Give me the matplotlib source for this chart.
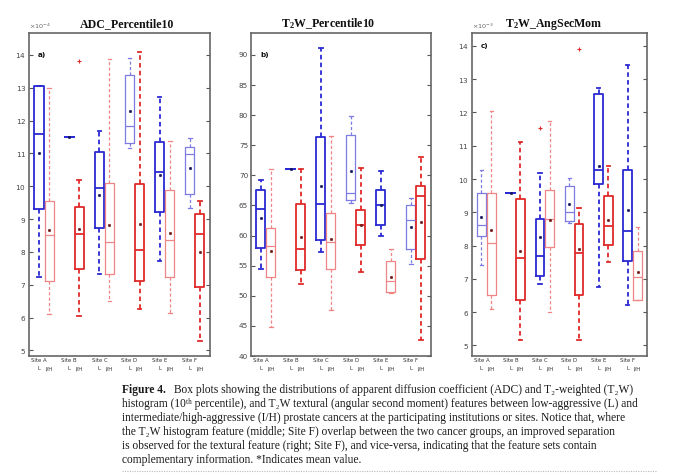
import numpy as np
import matplotlib
matplotlib.use("Agg")
import matplotlib.pyplot as plt
from matplotlib.lines import Line2D

plt.rcParams["mathtext.fontset"] = "custom"
plt.rcParams["mathtext.rm"] = "Liberation Serif"
plt.rcParams["mathtext.it"] = "Liberation Serif:italic"
plt.rcParams["mathtext.bf"] = "Liberation Serif:bold"

# ================================================================================================
# Data (order of boxes: Site A L, Site A I/H, Site B L, Site B I/H, ... Site F I/H)
# ================================================================================================
sites = ["Site A", "Site B", "Site C", "Site D", "Site E", "Site F"]
groups = ["L", "I/H"]

# a) ADC_Percentile10 (x 1e-4)
adc_whislo = [7.25, 6.10, 11.5, 6.04, 7.34, 6.50, 11.16, 6.25, 7.72, 6.15, 9.35, 5.28]
adc_q1 = [9.31, 7.12, 11.5, 7.47, 8.72, 7.34, 11.31, 7.10, 9.23, 7.23, 9.76, 6.93]
adc_med = [11.60, 8.52, 11.5, 8.54, 9.94, 8.30, 11.84, 8.07, 10.42, 8.37, 10.98, 8.54]
adc_q3 = [13.04, 9.55, 11.5, 9.37, 11.05, 10.10, 13.39, 10.06, 11.36, 9.90, 11.19, 9.16]
adc_whishi = [13.04, 13.00, 11.5, 10.19, 11.69, 13.88, 13.92, 14.08, 12.73, 11.39, 11.48, 9.56]
adc_mean = [11.00, 8.66, 11.5, 8.70, 9.73, 8.82, 12.29, 8.85, 10.34, 8.58, 10.55, 8.00]
adc_fliers = [[], [], [], [13.83], [], [], [], [], [], [], [], []]

# b) T2W_Percentile10
t2w_whislo = [54.5, 44.8, 71.0, 52.0, 57.2, 47.7, 65.4, 53.9, 59.9, 50.5, 55.2, 42.6]
t2w_q1 = [57.9, 53.1, 71.0, 54.3, 59.3, 54.5, 65.9, 58.5, 61.7, 50.6, 57.8, 56.1]
t2w_med = [64.4, 58.2, 71.0, 57.8, 65.2, 58.9, 67.1, 61.7, 65.1, 52.4, 62.6, 66.5]
t2w_q3 = [67.6, 61.2, 71.0, 65.2, 76.4, 63.7, 76.7, 64.3, 67.6, 55.8, 65.1, 68.2]
t2w_whishi = [69.2, 71.0, 71.0, 71.0, 91.1, 76.5, 79.8, 71.3, 70.7, 57.8, 66.3, 73.1]
t2w_mean = [63.0, 57.5, 71.0, 59.8, 68.3, 59.5, 70.7, 61.8, 65.0, 53.2, 61.5, 62.2]
t2w_fliers = [[] for _ in range(12)]

# c) T2W_AngSecMom (x 1e-3)
asm_whislo = [7.42, 6.09, 9.59, 5.15, 6.84, 6.00, 8.67, 5.17, 6.74, 7.50, 6.22, 6.35]
asm_q1 = [8.29, 6.51, 9.59, 6.37, 7.07, 7.97, 8.75, 6.50, 9.85, 8.02, 7.54, 6.37]
asm_med = [8.62, 8.07, 9.59, 7.62, 7.69, 8.80, 9.01, 7.79, 10.27, 8.59, 8.45, 7.05]
asm_q3 = [9.59, 9.57, 9.59, 9.41, 8.79, 9.67, 9.79, 8.64, 12.57, 9.49, 10.27, 7.85]
asm_whishi = [10.27, 12.05, 9.59, 11.10, 10.19, 11.74, 10.04, 9.12, 12.75, 10.39, 13.42, 8.57]
asm_mean = [8.87, 8.47, 9.59, 7.84, 8.27, 8.78, 9.25, 7.89, 10.40, 8.77, 9.07, 7.22]
asm_fliers = [[], [], [], [], [11.52], [], [], [13.92], [], [], [], []]

# ================================================================================================
# Styles
# ================================================================================================
blue = ["#7c7ce4", "#2a2ad2"]
red = ["#f08585", "#e02a2a"]
mean_col = {"L": "#14145e", "I/H": "#701515"}
# heavy (1) / light (0) rendering of each box, as it appears in the scanned figure
heavy = {
    "a": [1, 0, 1, 1, 1, 0, 0, 1, 1, 0, 0, 1],
    "b": [1, 0, 1, 1, 1, 0, 0, 1, 1, 0, 0, 1],
    "c": [0, 0, 1, 1, 1, 0, 0, 1, 1, 1, 1, 0],
}

positions = []
for i in range(len(sites)):
    positions += [3 * i + 1, 3 * i + 2]


def make_stats(whislo, q1, med, q3, whishi, mean, fliers, scale):
    stats = []
    for k in range(len(med)):
        stats.append(dict(whislo=whislo[k] * scale, q1=q1[k] * scale, med=med[k] * scale,
                          q3=q3[k] * scale, whishi=whishi[k] * scale, mean=mean[k] * scale,
                          fliers=np.array(fliers[k]) * scale))
    return stats


panels = [
    ("a", "ADC_Percentile10",
     make_stats(adc_whislo, adc_q1, adc_med, adc_q3, adc_whishi, adc_mean, adc_fliers, 1e-4),
     (4.83e-4, 14.66e-4), np.arange(5, 15) * 1e-4, -4, 0.932),
    ("b", r"T$_\mathbf{2}$W_Percentile10",
     make_stats(t2w_whislo, t2w_q1, t2w_med, t2w_q3, t2w_whishi, t2w_mean, t2w_fliers, 1.0),
     (40, 93.6), np.arange(40, 91, 5), None, 0.932),
    ("c", r"T$_\mathbf{2}$W_AngSecMom",
     make_stats(asm_whislo, asm_q1, asm_med, asm_q3, asm_whishi, asm_mean, asm_fliers, 1e-3),
     (4.69e-3, 14.38e-3), np.arange(5, 15) * 1e-3, -3, 0.962),
]

axes_rect = {
    "a": [0.0426, 0.2505, 0.2662, 0.6794],
    "b": [0.3691, 0.2505, 0.2647, 0.6794],
    "c": [0.6937, 0.2512, 0.2582, 0.6787],
}
title_x = {"a": 0.187, "b": 0.4826, "c": 0.8144}

# ================================================================================================
# Plot
# ================================================================================================
fig = plt.figure(figsize=(6.8, 4.75), dpi=100)

for key, title, stats, ylim, yticks, order, label_y in panels:
    ax = fig.add_axes(axes_rect[key])
    for k, st in enumerate(stats):
        grp = groups[k % 2]
        h = heavy[key][k]
        col = blue[h] if grp == "L" else red[h]
        lw = 1.3 if h else 0.9
        ax.bxp([st], positions=[positions[k]], widths=0.9, capwidths=0.35,
               showmeans=True, showfliers=True,
               boxprops=dict(color=col, linewidth=lw),
               medianprops=dict(color=col, linewidth=lw),
               whiskerprops=dict(color=col, linewidth=lw, linestyle=(0, (2.5, 1.8))),
               capprops=dict(color=col, linewidth=lw),
               meanprops=dict(marker="o", markersize=1.9, markerfacecolor=mean_col[grp],
                              markeredgecolor=mean_col[grp], markeredgewidth=0.3),
               flierprops=dict(marker="+", markersize=3.5, markeredgecolor=red[1],
                               markeredgewidth=0.8))

    ax.set_xlim(0, 18)
    ax.set_ylim(*ylim)
    ax.set_yticks(yticks)
    # two rows of x labels: site names (minor ticks) over group names (major ticks)
    ax.xaxis.remove_overlapping_locs = False
    ax.set_xticks(positions)
    ax.set_xticklabels([groups[k % 2] for k in range(12)], fontsize=3.9, color="#333333")
    ax.set_xticks(positions[::2], minor=True)
    ax.set_xticklabels(sites, minor=True, fontsize=3.9, color="#333333")
    ax.tick_params(axis="x", which="major", length=0, pad=7.5)
    ax.tick_params(axis="x", which="minor", length=0, pad=1.5)
    ax.tick_params(axis="y", direction="in", left=True, right=True, length=3, width=0.8,
                   color="#555555", labelsize=5.2, labelcolor="#444444", pad=2)
    if order is not None:
        ax.ticklabel_format(axis="y", style="sci", scilimits=(order, order), useMathText=True)
        off = ax.yaxis.get_offset_text()
        off.set_fontsize(4.6)
        off.set_color("#666666")
        off.set_math_fontfamily("dejavusans")
    for sp in ax.spines.values():
        sp.set_color("#666666")
        sp.set_linewidth(1.2)

    ax.text(0.05, label_y, key + ")", transform=ax.transAxes, fontsize=5.2,
            fontweight="bold", va="center", ha="left", color="#111111")
    fig.text(title_x[key], 1 - 26.7 / 475, title, ha="center", va="baseline", fontsize=8.6,
             fontweight="bold", family="Liberation Serif", color="#111111")

# ================================================================================================
# Caption
# ================================================================================================
serif = ["Liberation Serif", "DejaVu Serif", "DejaVu Sans"]
caption = [
    "Box plots showing the distributions of apparent diffusion coefficient (ADC) and T\u2082-weighted (T\u2082W)",
    "histogram (10\u1d57\u02b0 percentile), and T\u2082W textural (angular second moment) features between low-aggressive (L) and",
    "intermediate/high-aggressive (I/H) prostate cancers at the participating institutions or sites. Notice that, where",
    "the T\u2082W histogram feature (middle; Site F) overlap between the two cancer groups, an improved separation",
    "is observed for the textural feature (right; Site F), and vice-versa, indicating that the feature sets contain",
    "complementary information. *Indicates mean value.",
]
fig.text(122 / 680, 1 - 390 / 475, "Figure 4.", ha="left", va="center", fontsize=8.3,
         fontweight="bold", family=serif, color="#1a1a1a")
for i, line in enumerate(caption):
    x0 = 174 / 680 if i == 0 else 122 / 680
    fig.text(x0, 1 - (390 + 13.9 * i) / 475, line, ha="left", va="center",
             fontsize=8.3, family=serif, color="#1a1a1a")

fig.add_artist(Line2D([122 / 680, 657 / 680], [1 - 471 / 475] * 2, linestyle=(0, (1, 1.2)),
                      color="#bbbbbb", linewidth=0.8))

fig.savefig("out.png", dpi=100)
